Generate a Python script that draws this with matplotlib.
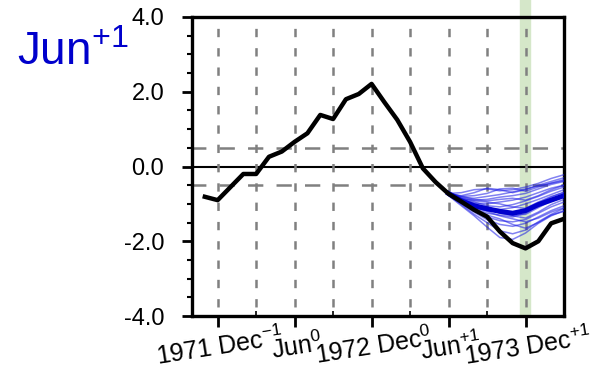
import matplotlib
matplotlib.use('Agg')
import matplotlib.pyplot as plt
from matplotlib.ticker import FixedLocator, MultipleLocator

plt.rcParams['font.family'] = ['Liberation Sans', 'DejaVu Sans']
plt.rcParams['mathtext.fontset'] = 'custom'
plt.rcParams['mathtext.rm'] = 'Liberation Sans'
plt.rcParams['mathtext.it'] = 'Liberation Sans'
plt.rcParams['lines.scale_dashes'] = False

# months counted from Dec 1971 (Dec^-1 = 0)
obs_months = list(range(-1, 28))
obs = [-0.81, -0.90, -0.55, -0.20, -0.20, 0.26, 0.40, 0.66, 0.89, 1.38,
       1.27, 1.80, 1.94, 2.21, 1.72, 1.25, 0.66, -0.05, -0.42, -0.73,
       -0.94, -1.16, -1.34, -1.74, -2.05, -2.19, -2.00, -1.52, -1.40]

# forecast from Jun^+1
fc_months = list(range(18, 28))
fc_mean = [-0.72, -0.92, -1.05, -1.13, -1.20, -1.25, -1.18, -1.02, -0.90, -0.78]
members = [
    [-0.72, -0.70, -0.62, -0.60, -0.65, -0.62, -0.55, -0.45, -0.32, -0.22],
    [-0.74, -0.78, -0.70, -0.58, -0.62, -0.70, -0.62, -0.50, -0.40, -0.30],
    [-0.70, -0.80, -0.78, -0.72, -0.60, -0.58, -0.66, -0.55, -0.44, -0.35],
    [-0.73, -0.82, -0.85, -0.80, -0.75, -0.68, -0.60, -0.52, -0.45, -0.38],
    [-0.72, -0.86, -0.90, -0.88, -0.82, -0.78, -0.72, -0.60, -0.48, -0.40],
    [-0.74, -0.88, -0.98, -1.00, -0.95, -0.90, -0.82, -0.70, -0.58, -0.50],
    [-0.71, -0.86, -0.95, -1.05, -1.08, -1.02, -0.92, -0.80, -0.66, -0.55],
    [-0.75, -0.92, -1.05, -1.12, -1.15, -1.10, -1.00, -0.88, -0.75, -0.62],
    [-0.72, -0.90, -1.02, -1.08, -1.20, -1.25, -1.15, -0.98, -0.82, -0.68],
    [-0.73, -0.94, -1.10, -1.18, -1.22, -1.30, -1.28, -1.10, -0.92, -0.78],
    [-0.76, -0.96, -1.12, -1.25, -1.30, -1.35, -1.25, -1.05, -0.90, -0.80],
    [-0.72, -0.88, -1.00, -1.12, -1.25, -1.32, -1.38, -1.22, -1.02, -0.88],
    [-0.75, -0.98, -1.18, -1.35, -1.45, -1.48, -1.42, -1.25, -1.08, -0.95],
    [-0.77, -1.00, -1.22, -1.42, -1.55, -1.60, -1.52, -1.35, -1.18, -1.05],
    [-0.76, -1.02, -1.28, -1.50, -1.72, -1.80, -1.70, -1.48, -1.28, -1.12],
    [-0.78, -1.05, -1.32, -1.62, -1.90, -1.95, -1.78, -1.52, -1.32, -1.18],
    [-0.74, -0.96, -1.15, -1.30, -1.40, -1.55, -1.65, -1.50, -1.30, -1.20],
    [-0.73, -0.92, -1.08, -1.20, -1.32, -1.40, -1.48, -1.38, -1.22, -1.10],
    [-0.72, -0.84, -0.92, -0.95, -1.00, -1.08, -1.12, -0.95, -0.80, -0.70],
    [-0.71, -0.80, -0.88, -0.92, -0.88, -0.85, -0.90, -0.78, -0.62, -0.50],
]

major_ticks = [0, 6, 12, 18, 24]
minor_ticks = [3, 9, 15, 21]
xlabels = ['1971 Dec$^{-1}$', 'Jun$^{0}$', '1972 Dec$^{0}$',
           'Jun$^{+1}$', '1973 Dec$^{+1}$']
yticks = [-4, -2, 0, 2, 4]
ylabels = ['-4.0', '-2.0', '0.0', '2.0', '4.0']
target_month = 24

fig = plt.figure(figsize=(6.08, 3.71), dpi=100)
ax = fig.add_axes([0.3158, 0.1482, 0.6118, 0.806])

# highlighted target month
ax.axvspan(target_month - 0.45, target_month + 0.38, ymin=0, ymax=1.06,
           color='#d5e7c9', zorder=0, clip_on=False)

ax.axhline(0, color='black', lw=1.5, zorder=1)
for lev in [-0.5, 0.5]:
    ax.axhline(lev, color='#808080', lw=1.8, linestyle=(1, (11, 9.5)), zorder=1)

for m in members:
    ax.plot(fc_months, m, color='#1a1ae6', lw=1.1, alpha=0.55, zorder=3)
ax.plot(fc_months, fc_mean, color='#0000cc', lw=3.6, zorder=4)
ax.plot(obs_months, obs, color='black', lw=3.2, zorder=5)

ax.set_xlim(-2, 27)
ax.set_ylim(-4, 4)

ax.xaxis.set_major_locator(FixedLocator(major_ticks))
ax.xaxis.set_minor_locator(FixedLocator(minor_ticks))
ax.set_xticklabels(xlabels, rotation=9, rotation_mode='anchor', ha='center')
ax.set_yticks(yticks)
ax.set_yticklabels(ylabels)
ax.yaxis.set_minor_locator(MultipleLocator(0.5))

ax.grid(axis='x', which='both', color='#808080', lw=1.8,
        linestyle=(7.4, (6, 7.9)))

ax.tick_params(axis='x', which='major', direction='out', length=8, width=2,
               labelsize=18, pad=5)
ax.tick_params(axis='x', which='minor', direction='in', length=3.5, width=1.2)
ax.tick_params(axis='y', which='major', direction='out', length=7, width=2,
               labelsize=17, pad=13)
ax.tick_params(axis='y', which='minor', direction='out', length=3.5, width=1.5)

for s in ax.spines.values():
    s.set_linewidth(2.4)

fig.text(0.028, 0.825, 'Jun$^{+1}$', color='#0000cc', fontsize=33,
         va='baseline', ha='left')

fig.savefig('out.png', dpi=100)
